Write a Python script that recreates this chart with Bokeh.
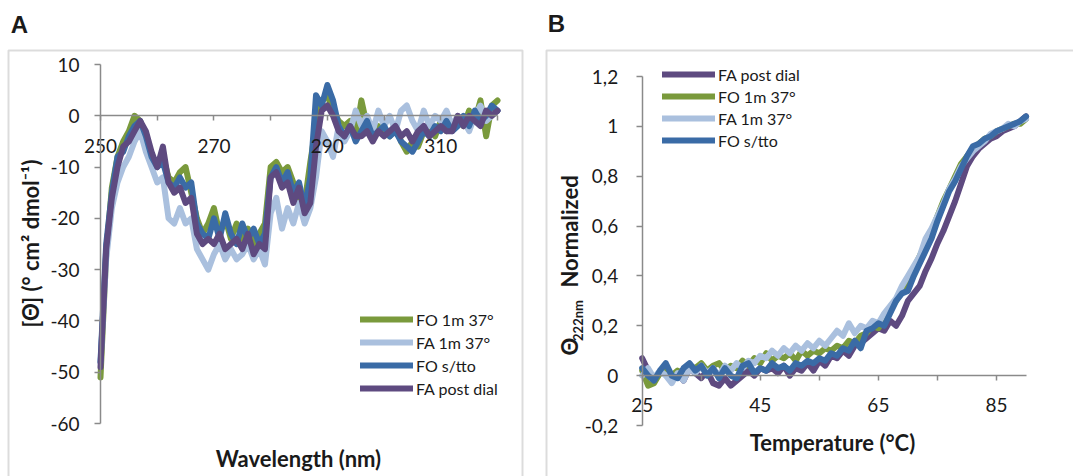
import math
from bokeh.plotting import figure
from bokeh.models import LinearAxis, FixedTicker, Label, BoxAnnotation, Legend, LegendItem, Range1d
from bokeh.layouts import row
from bokeh.embed import file_html
from bokeh.resources import INLINE

# ---------------- Panel A data (CD spectra) ----------------
wavelength = list(range(250, 321))
a_fo_1m37 = [-51, -27, -14, -8, -5, -3, 0, -1, -4, -8, -9, -8, -12, -13, -11, -10, -15, -20, -23, -21,
             -18, -23, -20, -24, -21, -24, -22, -25, -23, -21, -10, -9, -11, -10, -13, -16, -17, -9, -2, 3,
             4, 1, -1, -2, -1, -4, 3, -2, -4, -2, -3, -4, -2, -5, -7, -5, -6, -3, -2, -4,
             -1, -3, -2, -1, -2, 1, -1, 3, -4, 2, 3]
a_fa_1m37 = [-48, -28, -18, -13, -10, -8, -5, -3, -7, -10, -13, -12, -20, -21, -18, -21, -20, -26, -28, -30,
             -27, -25, -28, -26, -28, -27, -25, -28, -26, -29, -19, -16, -22, -18, -21, -17, -21, -18, -12, -3,
             -5, -8, -2, -5, -3, 1, -2, 0, -3, 1, -2, 0, -3, 1, 2, -1, -3, 1, -2, 0,
             -1, 1, -2, 0, -1, -3, 0, 2, -1, 0, 1]
a_fo_stto = [-48, -25, -15, -8, -7, -4, -2, -1, -4, -8, -10, -9, -13, -14, -12, -14, -13, -21, -23, -24,
             -20, -24, -19, -23, -25, -21, -24, -22, -25, -23, -12, -10, -13, -11, -15, -13, -18, -12, 4, 2,
             6, 3, -2, -4, -2, -5, -3, -1, -4, -3, -2, -4, -3, -5, -6, -7, -5, -3, -4, -2,
             -3, -1, -3, -2, 0, -2, 1, -1, 0, 2, 1]
a_fa_post = [-49, -26, -16, -10, -6, -5, -3, -1, -3, -7, -10, -6, -13, -15, -14, -17, -16, -23, -25, -24,
             -25, -23, -26, -25, -24, -26, -23, -27, -25, -26, -12, -11, -14, -13, -17, -14, -19, -17, -6, 1,
             2, 0, -3, -4, -2, -4, -4, -3, -5, -3, -4, -3, -2, -4, -3, -5, -3, -2, -4, -3,
             -2, -3, -3, 0, -2, 0, -1, -2, 1, 0, 1]
a_xticks = [250, 260, 270, 280, 290, 300, 310, 320]
a_xlabels = {250: "250", 260: "", 270: "270", 280: "", 290: "290", 300: "", 310: "310", 320: ""}
a_yticks = [10, 0, -10, -20, -30, -40, -50, -60]
a_ylabels = {10: "10", 0: "0", -10: "-10", -20: "-20", -30: "-30", -40: "-40", -50: "-50", -60: "-60"}

# ---------------- Panel B data (thermal melt) ----------------
temperature = list(range(25, 91))
b_fa_post = [0.07, 0.02, -0.02, 0.01, 0.02, -0.01, 0.01, -0.02, 0.03, 0.01, -0.01, 0.02, -0.03, -0.04, -0.01,
             -0.04, -0.02, 0.00, 0.02, 0.00, 0.03, 0.02, 0.03, 0.01, 0.04, 0.00, 0.03, 0.02, 0.05, 0.02,
             0.06, 0.04, 0.08, 0.07, 0.10, 0.08, 0.12, 0.13, 0.15, 0.17, 0.19, 0.18, 0.22, 0.20, 0.24,
             0.30, 0.33, 0.36, 0.42, 0.47, 0.53, 0.58, 0.64, 0.70, 0.77, 0.84, 0.88, 0.91, 0.93, 0.95,
             0.96, 0.98, 0.99, 1.00, 1.02, 1.04]
b_fo_1m37 = [0.02, -0.04, -0.03, 0.01, 0.03, 0.00, 0.02, 0.01, 0.04, 0.03, 0.05, 0.02, 0.04, 0.05, 0.02,
             0.04, 0.03, 0.06, 0.04, 0.07, 0.05, 0.09, 0.06, 0.08, 0.07, 0.09, 0.06, 0.10, 0.08, 0.10,
             0.09, 0.11, 0.10, 0.12, 0.11, 0.14, 0.13, 0.16, 0.17, 0.20, 0.19, 0.23, 0.27, 0.30, 0.34,
             0.38, 0.43, 0.48, 0.53, 0.58, 0.64, 0.70, 0.75, 0.80, 0.85, 0.88, 0.91, 0.93, 0.95, 0.96,
             0.98, 0.99, 1.00, 1.01, 1.01, 1.03]
b_fa_1m37 = [0.00, 0.03, -0.01, 0.02, 0.00, -0.03, 0.01, -0.02, 0.03, 0.01, 0.04, 0.01, 0.03, 0.00, 0.04,
             0.02, 0.05, 0.03, 0.06, 0.05, 0.08, 0.07, 0.10, 0.08, 0.11, 0.09, 0.12, 0.10, 0.13, 0.11,
             0.14, 0.12, 0.15, 0.18, 0.16, 0.21, 0.17, 0.20, 0.19, 0.22, 0.21, 0.25, 0.28, 0.31, 0.36,
             0.40, 0.44, 0.48, 0.55, 0.59, 0.64, 0.69, 0.75, 0.79, 0.84, 0.87, 0.90, 0.92, 0.94, 0.97,
             0.98, 0.99, 1.01, 1.00, 1.02, 1.03]
b_fo_stto = [0.03, 0.00, -0.02, 0.02, 0.05, 0.00, -0.01, 0.03, 0.05, 0.02, 0.04, 0.00, 0.03, -0.01, 0.03,
             0.00, -0.01, 0.04, 0.05, 0.01, 0.03, 0.02, 0.05, 0.03, 0.04, 0.02, 0.05, 0.04, 0.06, 0.05,
             0.07, 0.06, 0.09, 0.08, 0.11, 0.10, 0.14, 0.11, 0.18, 0.19, 0.21, 0.20, 0.25, 0.30, 0.33,
             0.34, 0.40, 0.45, 0.50, 0.55, 0.62, 0.68, 0.74, 0.78, 0.83, 0.88, 0.92, 0.93, 0.95, 0.96,
             0.98, 0.99, 1.00, 1.01, 1.02, 1.04]
b_xticks = [25, 35, 45, 55, 65, 75, 85]
b_xlabels = {25: "25", 35: "", 45: "45", 55: "", 65: "65", 75: "", 85: "85"}
b_yticks = [-0.2, 0, 0.2, 0.4, 0.6, 0.8, 1.0, 1.2]
b_ylabels = {-0.2: "-0,2", 0: "0", 0.2: "0,2", 0.4: "0,4", 0.6: "0,6", 0.8: "0,8", 1.0: "1", 1.2: "1,2"}

# ---------------- Style ----------------
GREEN = "#7A9A3C"
LIGHT = "#AAC0DE"
BLUE = "#3A6BA6"
PURPLE = "#5E4A80"
GRAY = "#8a8a8a"
FONT = "Lato"
TXT = "#1a1a1a"
H = 476


def mapper(p0, p1, v0, v1):
    return lambda px: v0 + (px - p0) / (p1 - p0) * (v1 - v0)


def base_fig(width, xmap, ymap):
    # the frame fills the whole canvas; ranges are set so the data land where the reference has them
    p = figure(width=width, height=H,
               x_range=Range1d(xmap(0), xmap(width)), y_range=Range1d(ymap(H), ymap(0)),
               output_backend="svg", toolbar_location=None,
               x_axis_location=None, y_axis_location=None,
               min_border=0, min_border_left=0, min_border_right=0,
               min_border_top=0, min_border_bottom=0,
               outline_line_color=None, background_fill_color="white",
               border_fill_color="white")
    p.xgrid.visible = False
    p.ygrid.visible = False
    return p


def style_axis(ax, tick_out):
    ax.axis_line_color = GRAY
    ax.axis_line_width = 1.5
    ax.major_tick_line_color = GRAY
    ax.major_tick_line_width = 1.5
    ax.major_tick_out = tick_out
    ax.major_tick_in = 0
    ax.minor_tick_line_color = None
    ax.major_label_text_font = FONT
    ax.major_label_text_font_size = "19px"
    ax.major_label_text_color = TXT


def add_label(p, x, y, text, size, bold=True, angle=0.0, font=FONT):
    p.add_layout(Label(x=x, y=y, text=text, angle=angle, text_align="center",
                       text_baseline="middle", text_font=font,
                       text_font_size=size, text_font_style="bold" if bold else "normal",
                       text_color=TXT))


def make_legend(items, loc, spacing):
    return Legend(items=items, location=loc, padding=0, margin=0, spacing=spacing,
                  glyph_width=53, glyph_height=20, label_height=20, label_standoff=3,
                  border_line_color=None, background_fill_alpha=0,
                  label_text_font=FONT, label_text_font_size="16px", label_text_color=TXT)


# ---------------- Panel A ----------------
WA = 536
xA = mapper(100, 497, 250, 320)
yA = mapper(64, 423, 10, -60)
pa = base_fig(WA, xA, yA)

pa.add_layout(BoxAnnotation(left=xA(8), right=xA(522), top=yA(50), bottom=yA(H + 20),
                            fill_alpha=0, line_color=GRAY, line_width=2, level="underlay"))

ya = LinearAxis(ticker=FixedTicker(ticks=a_yticks), fixed_location=250, bounds=(-60, 10),
                major_label_overrides=a_ylabels, major_label_standoff=15)
style_axis(ya, 6)
pa.add_layout(ya, "left")
xa = LinearAxis(ticker=FixedTicker(ticks=a_xticks), fixed_location=0, bounds=(250, 320),
                major_label_overrides=a_xlabels, major_label_standoff=18)
style_axis(xa, 5)
pa.add_layout(xa, "below")

ra = []
for ys, c in [(a_fo_1m37, GREEN), (a_fa_1m37, LIGHT), (a_fo_stto, BLUE), (a_fa_post, PURPLE)]:
    ra.append(pa.line(wavelength, ys, line_color=c, line_width=6, line_join="round", line_cap="round"))

leg_a = make_legend([LegendItem(label="FO 1m 37°", renderers=[ra[0]]),
                     LegendItem(label="FA 1m 37°", renderers=[ra[1]]),
                     LegendItem(label="FO s/tto", renderers=[ra[2]]),
                     LegendItem(label="FA post dial", renderers=[ra[3]])], (360, H - 398), 3)
pa.add_layout(leg_a)

add_label(pa, xA(19), yA(24), "A", "24px", font="Liberation Sans")
add_label(pa, xA(30), yA(243), "[Θ] (° cm² dmol⁻¹)", "22px", angle=math.pi / 2)
add_label(pa, xA(298), yA(458), "Wavelength (nm)", "22px")

# ---------------- Panel B ----------------
x0 = WA
WB = 1073 - WA
xB = mapper(641.7 - x0, 1025.5 - x0, 25, 90)
yB = mapper(76, 425, 1.2, -0.2)
pb = base_fig(WB, xB, yB)

pb.add_layout(BoxAnnotation(left=xB(546 - x0), right=xB(1100 - x0), top=yB(50), bottom=yB(H + 20),
                            fill_alpha=0, line_color=GRAY, line_width=2, level="underlay"))

yb = LinearAxis(ticker=FixedTicker(ticks=b_yticks), fixed_location=25, bounds=(-0.2, 1.2),
                major_label_overrides=b_ylabels, major_label_standoff=18)
style_axis(yb, 6)
pb.add_layout(yb, "left")
xb = LinearAxis(ticker=FixedTicker(ticks=b_xticks), fixed_location=0, bounds=(25, 90),
                major_label_overrides=b_xlabels, major_label_standoff=17)
style_axis(xb, 5)
pb.add_layout(xb, "below")

rb = []
for ys, c in [(b_fa_post, PURPLE), (b_fo_1m37, GREEN), (b_fa_1m37, LIGHT), (b_fo_stto, BLUE)]:
    rb.append(pb.line(temperature, ys, line_color=c, line_width=6, line_join="round", line_cap="round"))

leg_b = make_legend([LegendItem(label="FA post dial", renderers=[rb[0]]),
                     LegendItem(label="FO 1m 37°", renderers=[rb[1]]),
                     LegendItem(label="FA 1m 37°", renderers=[rb[2]]),
                     LegendItem(label="FO s/tto", renderers=[rb[3]])], (662 - x0, H - 150), 2)
pb.add_layout(leg_b)

add_label(pb, xB(556 - x0), yB(23), "B", "24px", font="Liberation Sans")
add_label(pb, xB(569 - x0), yB(346), "Θ", "22px", angle=math.pi / 2)
add_label(pb, xB(577 - x0), yB(320), "222nm", "13px", angle=math.pi / 2)
add_label(pb, xB(569 - x0), yB(231), "Normalized", "22px", angle=math.pi / 2)
add_label(pb, xB(832 - x0), yB(442), "Temperature (°C)", "22px")

layout = row(pa, pb)
open("out.html", "w").write(file_html(layout, INLINE))
